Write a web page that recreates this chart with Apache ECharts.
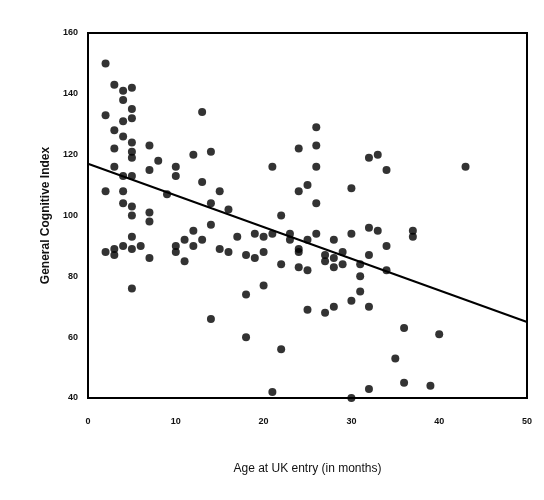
<!DOCTYPE html><html><head><meta charset="utf-8">
<script src="https://cdn.jsdelivr.net/npm/echarts@6/dist/echarts.min.js"></script>
<style>body{margin:0;background:#fff}#c{width:544px;height:500px}</style></head><body><div id="c"></div>
<script>
const ageMonths=[2,3,4,5,4,5,2,4,5,3,4,5,3,5,7,5,3,4,5,7,8,10,10,13,12,14,13,15,14,16,2,4,4,5,5,7,7,9,11,10,12,14,3,2,3,4,5,6,5,7,10,12,13,15,16,11,17,19,20,18,19,20,21,22,22,21,24,25,24,26,26,26,26,25,26,28,27,28,30,30,32,33,32,33,34,34,37,37,43,23,24,24,25,27,29,29,31,31,32,34,28,27,25,30,31,32,35,36,40,36,39,32,30,21,22,18,14,5,18,20,24,28,23];
const gci=[150,143,141,142,138,135,133,131,132,128,126,124,122,121,123,119,116,113,113,115,118,116,113,134,120,121,111,108,104,102,108,108,104,103,100,101,98,107,92,90,95,97,89,88,87,90,89,90,93,86,88,90,92,89,88,85,93,94,88,87,86,93,94,84,100,116,122,110,108,123,129,116,104,92,94,92,87,86,94,109,119,120,96,95,115,90,95,93,116,92,89,83,82,85,88,84,80,84,87,82,70,68,69,72,75,70,53,63,61,45,44,43,40,42,56,60,66,76,74,77,88,83,94];
const fitX=[0,50], fitY=[117,65];
const pts=ageMonths.map((x,i)=>[x,gci[i]]);
const c=echarts.init(document.getElementById('c'));
const lab={color:'#111',fontFamily:'Liberation Sans',fontSize:9,fontWeight:'bold'};
c.setOption({animation:false,
grid:{left:88,right:17,top:33,bottom:102},
xAxis:{type:'value',min:0,max:50,interval:10,name:'Age at UK entry (in months)',nameLocation:'middle',nameGap:65,
 nameTextStyle:{color:'#111',fontFamily:'Liberation Sans',fontSize:12},
 axisLine:{lineStyle:{color:'#000',width:2}},axisTick:{show:false},splitLine:{show:false},axisLabel:Object.assign({margin:19},lab)},
yAxis:{type:'value',min:40,max:160,interval:20,name:'General Cognitive Index',nameLocation:'middle',nameGap:36,
 nameTextStyle:{color:'#111',fontFamily:'Liberation Sans',fontSize:12,fontWeight:'bold'},
 axisLine:{show:true,lineStyle:{color:'#000',width:2}},axisTick:{show:false},splitLine:{show:false},axisLabel:Object.assign({margin:10},lab)},
series:[
{type:'scatter',data:pts,symbol:'circle',symbolSize:8,itemStyle:{color:'#000'}},
{type:'line',data:fitX.map((x,i)=>[x,fitY[i]]),symbol:'none',lineStyle:{color:'#000',width:2}},
]});
c.setOption({graphic:[{type:'rect',shape:{x:88,y:33,width:439,height:365},style:{fill:'none',stroke:'#000',lineWidth:2},z:100}]});
</script></body></html>
